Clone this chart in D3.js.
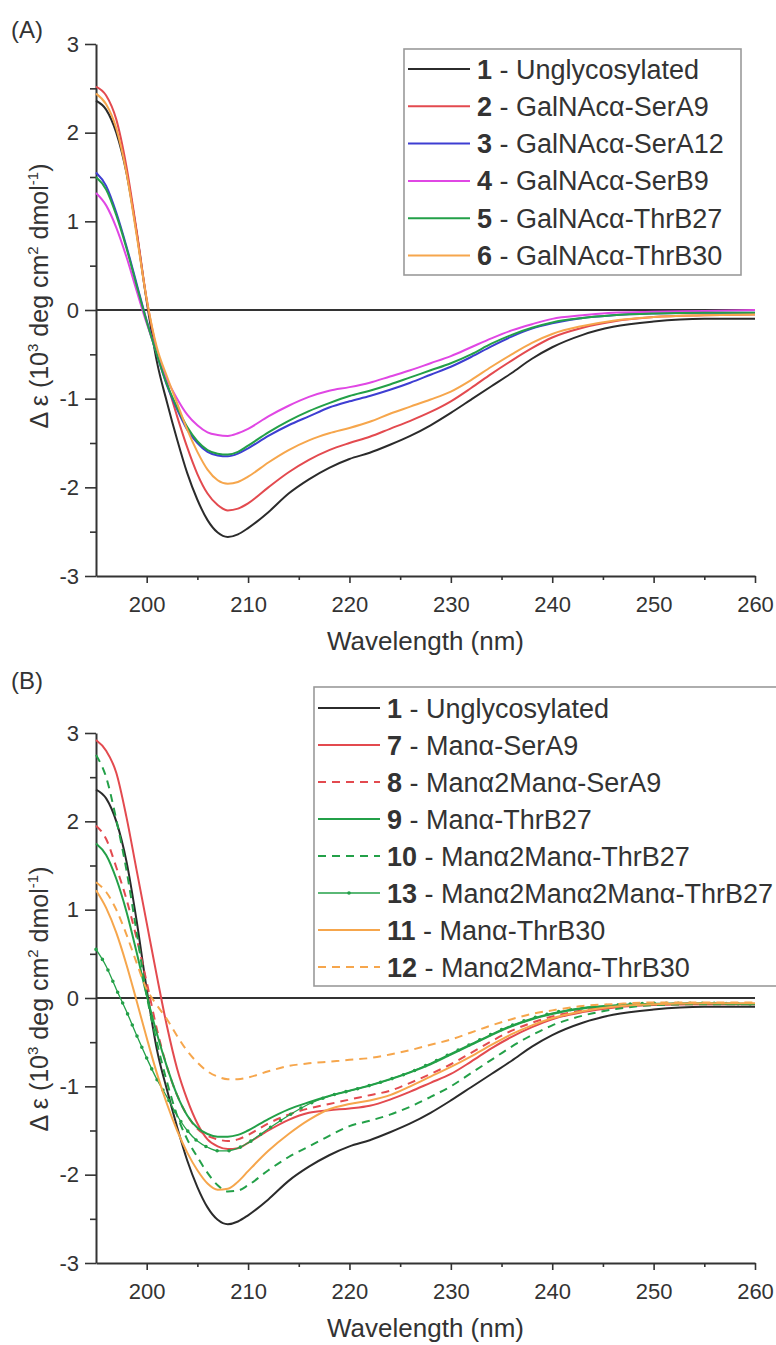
<!DOCTYPE html>
<html>
<head>
<meta charset="utf-8">
<script src="https://cdn.jsdelivr.net/npm/d3@7"></script>
<style>
  body { margin: 0; background: #fff; }
  text { font-family: "Liberation Sans", Arial, sans-serif; fill: #333; }
</style>
</head>
<body>
<svg id="fig" width="776" height="1345"></svg>
<script>
// wavelength grid (nm)
const wl = [195,196,197,198,199,200,201,202,203,204,205,206,207,208,209,210,212,214,216,218,220,222,224,226,228,230,232,234,236,238,240,243,246,250,255,260];

// Δε values (10^3 deg cm2 dmol-1)
const s1  = [2.36,2.26,2.0,1.55,0.88,0.1,-0.58,-1.04,-1.46,-1.84,-2.14,-2.37,-2.51,-2.56,-2.53,-2.46,-2.28,-2.07,-1.91,-1.78,-1.68,-1.61,-1.52,-1.42,-1.3,-1.16,-1.01,-0.86,-0.71,-0.55,-0.42,-0.28,-0.19,-0.13,-0.1,-0.1];
const s2  = [2.52,2.42,2.15,1.62,0.9,0.12,-0.45,-0.82,-1.2,-1.55,-1.85,-2.07,-2.2,-2.26,-2.24,-2.18,-2.0,-1.83,-1.69,-1.58,-1.5,-1.43,-1.34,-1.25,-1.15,-1.03,-0.88,-0.72,-0.57,-0.43,-0.31,-0.2,-0.13,-0.08,-0.06,-0.05];
const s3  = [1.55,1.4,1.1,0.72,0.3,-0.12,-0.5,-0.85,-1.12,-1.35,-1.5,-1.6,-1.64,-1.65,-1.62,-1.56,-1.42,-1.3,-1.2,-1.1,-1.03,-0.97,-0.9,-0.82,-0.73,-0.64,-0.53,-0.41,-0.3,-0.21,-0.15,-0.09,-0.06,-0.04,-0.03,-0.03];
const s4  = [1.32,1.18,0.93,0.6,0.22,-0.15,-0.48,-0.78,-1.0,-1.18,-1.3,-1.38,-1.41,-1.42,-1.39,-1.34,-1.2,-1.08,-0.98,-0.91,-0.87,-0.82,-0.75,-0.68,-0.6,-0.52,-0.42,-0.32,-0.23,-0.16,-0.1,-0.06,-0.03,-0.02,-0.01,0.0];
const s5  = [1.5,1.36,1.07,0.7,0.28,-0.13,-0.5,-0.84,-1.1,-1.32,-1.48,-1.58,-1.62,-1.63,-1.6,-1.53,-1.38,-1.25,-1.14,-1.05,-0.97,-0.91,-0.84,-0.76,-0.68,-0.6,-0.5,-0.38,-0.28,-0.2,-0.14,-0.09,-0.06,-0.04,-0.03,-0.03];
const s6  = [2.44,2.32,2.05,1.55,0.85,0.12,-0.42,-0.75,-1.05,-1.35,-1.6,-1.8,-1.92,-1.96,-1.94,-1.88,-1.72,-1.58,-1.47,-1.39,-1.33,-1.26,-1.17,-1.09,-1.01,-0.92,-0.79,-0.64,-0.5,-0.37,-0.27,-0.18,-0.12,-0.08,-0.06,-0.05];
const s7  = [2.92,2.8,2.55,2.05,1.45,0.85,0.25,-0.32,-0.8,-1.15,-1.42,-1.6,-1.68,-1.71,-1.7,-1.64,-1.5,-1.38,-1.3,-1.27,-1.25,-1.22,-1.15,-1.06,-0.96,-0.86,-0.72,-0.57,-0.44,-0.33,-0.24,-0.16,-0.11,-0.08,-0.07,-0.07];
const s8  = [1.95,1.8,1.48,1.12,0.68,0.18,-0.35,-0.78,-1.1,-1.33,-1.48,-1.56,-1.6,-1.62,-1.6,-1.55,-1.42,-1.32,-1.25,-1.2,-1.15,-1.1,-1.05,-0.96,-0.86,-0.75,-0.62,-0.49,-0.37,-0.28,-0.21,-0.14,-0.1,-0.07,-0.06,-0.07];
const s9  = [1.75,1.62,1.35,0.98,0.52,0.03,-0.4,-0.78,-1.1,-1.33,-1.47,-1.54,-1.57,-1.57,-1.55,-1.5,-1.37,-1.26,-1.18,-1.11,-1.05,-0.99,-0.92,-0.84,-0.75,-0.64,-0.53,-0.42,-0.32,-0.24,-0.18,-0.12,-0.09,-0.07,-0.06,-0.07];
const s10 = [2.75,2.5,2.02,1.45,0.75,0.03,-0.5,-0.95,-1.33,-1.6,-1.8,-1.98,-2.12,-2.19,-2.18,-2.12,-1.95,-1.8,-1.68,-1.56,-1.45,-1.39,-1.32,-1.23,-1.12,-1.0,-0.85,-0.7,-0.55,-0.42,-0.31,-0.2,-0.13,-0.08,-0.07,-0.07];
const s13 = [0.55,0.36,0.1,-0.15,-0.42,-0.68,-0.92,-1.12,-1.33,-1.5,-1.62,-1.69,-1.73,-1.73,-1.7,-1.64,-1.48,-1.33,-1.2,-1.11,-1.05,-0.99,-0.92,-0.84,-0.74,-0.63,-0.52,-0.41,-0.31,-0.23,-0.17,-0.11,-0.08,-0.06,-0.06,-0.07];
const s11 = [1.22,1.02,0.74,0.38,-0.03,-0.45,-0.85,-1.2,-1.5,-1.75,-1.95,-2.1,-2.17,-2.16,-2.08,-1.96,-1.73,-1.54,-1.38,-1.26,-1.2,-1.16,-1.1,-1.0,-0.89,-0.78,-0.66,-0.53,-0.41,-0.31,-0.23,-0.15,-0.1,-0.07,-0.06,-0.06];
const s12 = [1.31,1.2,1.0,0.72,0.4,0.1,-0.08,-0.24,-0.43,-0.6,-0.73,-0.83,-0.89,-0.92,-0.92,-0.9,-0.83,-0.77,-0.74,-0.72,-0.7,-0.68,-0.64,-0.59,-0.53,-0.47,-0.39,-0.31,-0.24,-0.18,-0.14,-0.09,-0.07,-0.05,-0.05,-0.05];

const xTicks = [200,210,220,230,240,250,260];
const xMinor = [205,215,225,235,245,255];
const yTicks = [-3,-2,-1,0,1,2,3];
const yMinor = [-2.5,-1.5,-0.5,0.5,1.5,2.5];

const C = {black:'#2b2b2b', red:'#e34a4f', blue:'#3e3ed2', pink:'#e047e4', green:'#23a048', orange:'#f6a64c'};

const seriesA = [
  {num:'1', name:'Unglycosylated',   v:s1, color:C.black},
  {num:'2', name:'GalNAcα-SerA9',    v:s2, color:C.red},
  {num:'3', name:'GalNAcα-SerA12',   v:s3, color:C.blue},
  {num:'4', name:'GalNAcα-SerB9',    v:s4, color:C.pink},
  {num:'5', name:'GalNAcα-ThrB27',   v:s5, color:C.green},
  {num:'6', name:'GalNAcα-ThrB30',   v:s6, color:C.orange}
];
const seriesB = [
  {num:'1',  name:'Unglycosylated',          v:s1,  color:C.black},
  {num:'7',  name:'Manα-SerA9',              v:s7,  color:C.red},
  {num:'8',  name:'Manα2Manα-SerA9',         v:s8,  color:C.red, dash:true},
  {num:'9',  name:'Manα-ThrB27',             v:s9,  color:C.green},
  {num:'10', name:'Manα2Manα-ThrB27',        v:s10, color:C.green, dash:true},
  {num:'13', name:'Manα2Manα2Manα-ThrB27',   v:s13, color:C.green, dots:true},
  {num:'11', name:'Manα-ThrB30',             v:s11, color:C.orange},
  {num:'12', name:'Manα2Manα-ThrB30',        v:s12, color:C.orange, dash:true}
];

const svg = d3.select('#fig');

function styleLine(sel, s){
  sel.attr('fill','none').attr('stroke', s.color)
    .attr('stroke-width', s.dots ? 1.3 : 2)
    .attr('stroke-dasharray', s.dash ? '8,6' : null);
}

function panel(cfg){
  const x = d3.scaleLinear().domain([195,260]).range([96,755]);
  const y = d3.scaleLinear().domain([-3,3]).range([cfg.y0, cfg.y1]);
  const g = svg.append('g');

  // panel letter
  g.append('text').attr('x',11).attr('y',cfg.letterY)
    .attr('font-size',24).text(cfg.letter);

  // axes
  g.append('g').attr('transform',`translate(0,${cfg.y0})`)
    .call(d3.axisBottom(x).tickValues(xTicks).tickSize(7).tickPadding(13).tickSizeOuter(0));
  g.append('g').attr('transform',`translate(0,${cfg.y0})`)
    .call(d3.axisBottom(x).tickValues(xMinor).tickSize(4).tickFormat(''))
    .select('.domain').remove();
  const ay = g.append('g').attr('transform','translate(96,0)')
    .call(d3.axisLeft(y).tickValues(yTicks).tickSize(11).tickPadding(6).tickSizeOuter(0));
  g.append('g').attr('transform','translate(96,0)')
    .call(d3.axisLeft(y).tickValues(yMinor).tickSize(6).tickFormat(''))
    .select('.domain').remove();
  g.selectAll('.domain').attr('stroke','#333').attr('stroke-width',2);
  g.selectAll('.tick line').attr('stroke','#333').attr('stroke-width',1.6);
  g.selectAll('.tick text').attr('font-size',22).attr('fill','#333')
    .attr('font-family','"Liberation Sans", Arial, sans-serif');
  ay.selectAll('.tick text').text(d => d < 0 ? '-' + Math.abs(d) : d);

  // zero line
  g.append('line').attr('x1',x(195)).attr('x2',x(260)).attr('y1',y(0)).attr('y2',y(0))
    .attr('stroke','#333').attr('stroke-width',1.8);

  // curves
  const line = d3.line().x((d,i)=>x(wl[i])).y(d=>y(d)).curve(d3.curveMonotoneX);
  cfg.series.forEach(s => {
    styleLine(g.append('path').datum(s.v).attr('d', line), s);
    if (s.dots) {
      g.append('path').datum(s.v).attr('d', line).attr('fill','none')
        .attr('stroke', s.color).attr('stroke-width',3.6)
        .attr('stroke-linecap','round').attr('stroke-dasharray','0,12');
    }
  });

  // axis titles
  g.append('text').attr('x',(x(195)+x(260))/2).attr('y',cfg.y0 + 74)
    .attr('text-anchor','middle').attr('font-size',26).text('Wavelength (nm)');
  const yt = g.append('text').attr('transform',`translate(48,${cfg.ylabelY}) rotate(-90)`)
    .attr('text-anchor','middle').attr('font-size',25);
  yt.append('tspan').text('Δ ε (10');
  yt.append('tspan').attr('font-size',15).attr('dy',-10).text('3');
  yt.append('tspan').attr('dy',10).text(' deg cm');
  yt.append('tspan').attr('font-size',15).attr('dy',-10).text('2');
  yt.append('tspan').attr('dy',10).text(' dmol');
  yt.append('tspan').attr('font-size',15).attr('dy',-10).text('-1');
  yt.append('tspan').attr('dy',10).text(')');

  // legend
  const L = cfg.legend;
  const lg = g.append('g');
  lg.append('rect').attr('x',L.x).attr('y',L.y).attr('width',L.w).attr('height',L.h)
    .attr('fill','#fff').attr('stroke','#9a9a9a').attr('stroke-width',1.6);
  cfg.series.forEach((s,i) => {
    const ry = L.row0 + i*L.step;
    styleLine(lg.append('line').attr('x1',L.x+4).attr('x2',L.x+66).attr('y1',ry).attr('y2',ry), s);
    if (s.dots) {
      lg.append('circle').attr('cx',L.x+35).attr('cy',ry).attr('r',1.8).attr('fill',s.color);
    }
    const t = lg.append('text').attr('x',L.x+73).attr('y',ry+9.5).attr('font-size',27);
    t.append('tspan').attr('font-weight','bold').text(s.num);
    t.append('tspan').text(' - ' + s.name);
  });
}

panel({letter:'(A)', letterY:38, y0:576, y1:44, ylabelY:296, series:seriesA,
  legend:{x:404, y:49, w:337, h:226, row0:69, step:37.3}});
panel({letter:'(B)', letterY:689, y0:1263, y1:733, ylabelY:999, series:seriesB,
  legend:{x:314, y:687, w:520, h:299, row0:708, step:37}});
</script>
</body>
</html>
